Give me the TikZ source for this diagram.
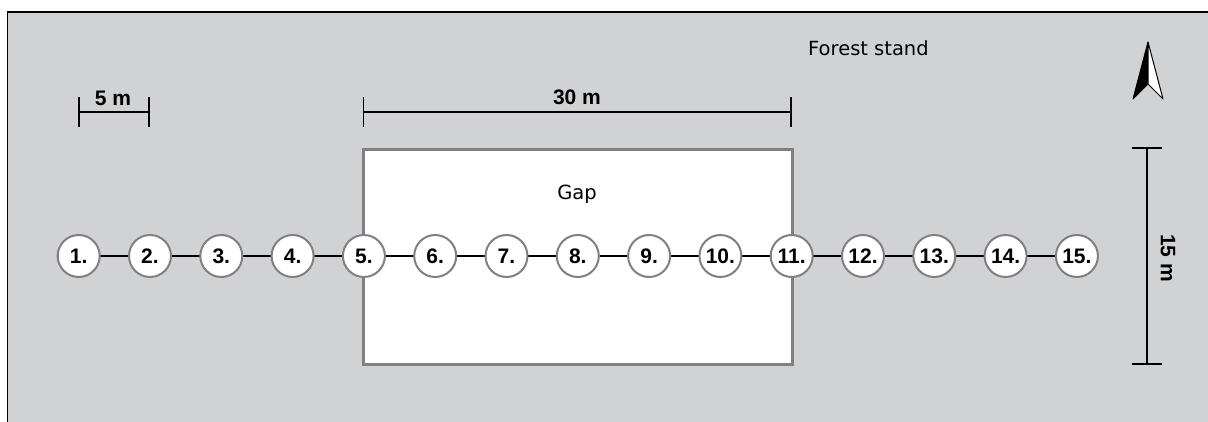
\documentclass[tikz,border=0pt]{standalone}
\usepackage{fontspec}
\setmainfont{DejaVu Sans}
\newfontfamily\labelfont{Liberation Sans}
\definecolor{standgray}{RGB}{209,210,212}
\definecolor{edgegray}{RGB}{128,128,132}
\tikzset{
  plot/.style={circle, draw=edgegray, line width=2pt, fill=white, minimum size=42pt, inner sep=0pt,
    font=\labelfont\bfseries\fontsize{21}{21}\selectfont},
  transect/.style={line width=1.6pt, black},
  scalebar/.style={line width=1.6pt, black},
  scalelabel/.style={font=\labelfont\bfseries\fontsize{21}{21}\selectfont, inner sep=0pt},
  plainlabel/.style={font=\fontsize{19.5}{19.5}\selectfont, inner sep=0pt}
}
\begin{document}
\begin{tikzpicture}[x=1pt,y=-1pt]
  \useasboundingbox (0,0) rectangle (1208,422);
  \fill[white] (0,0) rectangle (1208,422);
  % forest stand background
  \fill[standgray] (7.5,12) rectangle (1208,422);
  \draw[line width=1.5pt, black] (7.5,422) -- (7.5,12) -- (1208,12);
  % the gap
  \draw[edgegray, line width=3pt, fill=white] (363.5,149.5) rectangle (792,364);
  \node[plainlabel] (gap) at (577,194) {Gap};
  \node[plainlabel, anchor=west] (stand) at (808,48) {Forest stand};
  % sample plots along the transect
  \foreach \i in {1,...,15} {
    \coordinate (c\i) at ({78.7+(\i-1)*71.3},256);
  }
  \foreach \i [evaluate=\i as \j using int(\i+1)] in {1,...,14} {
    \draw[transect] (c\i) -- (c\j);
  }
  \foreach \i in {1,...,15} {
    \node[plot] (p\i) at (c\i) {\i.};
  }
  % 5 m scale bar
  \coordinate (a1) at (79,112);
  \coordinate (a2) at (149,112);
  \draw[scalebar] (a1) -- (a2);
  \draw[scalebar] ([yshift=-15pt]a1) -- ([yshift=15pt]a1);
  \draw[scalebar] ([yshift=-15pt]a2) -- ([yshift=15pt]a2);
  \node[scalelabel] (l5) at (113,98) {5 m};
  % 30 m scale bar
  \coordinate (b1) at (363.5,112);
  \coordinate (b2) at (791,112);
  \draw[scalebar] (b1) -- (b2);
  \draw[scalebar] ([yshift=-15pt]b1) -- ([yshift=15pt]b1);
  \draw[scalebar] ([yshift=-15pt]b2) -- ([yshift=15pt]b2);
  \node[scalelabel] (l30) at (577,97) {30 m};
  % 15 m scale bar
  \coordinate (v1) at (1147,148);
  \coordinate (v2) at (1147,364);
  \draw[scalebar] (v1) -- (v2);
  \draw[scalebar] ([xshift=-15pt]v1) -- ([xshift=15pt]v1);
  \draw[scalebar] ([xshift=-15pt]v2) -- ([xshift=15pt]v2);
  \node[scalelabel, rotate=-90] (l15) at (1168,258) {15 m};
  % north arrow
  \coordinate (ntip) at (1148,42);
  \coordinate (nl) at (1133,99);
  \coordinate (nr) at (1163,99);
  \coordinate (nn) at (1148,84);
  \fill[black] (ntip) -- (nl) -- (nn) -- cycle;
  \draw[black, line width=1pt, fill=white, line join=round] (ntip) -- (nr) -- (nn) -- cycle;
  \draw[black, line width=1pt, line join=round] (ntip) -- (nl) -- (nn);
\end{tikzpicture}
\end{document}
